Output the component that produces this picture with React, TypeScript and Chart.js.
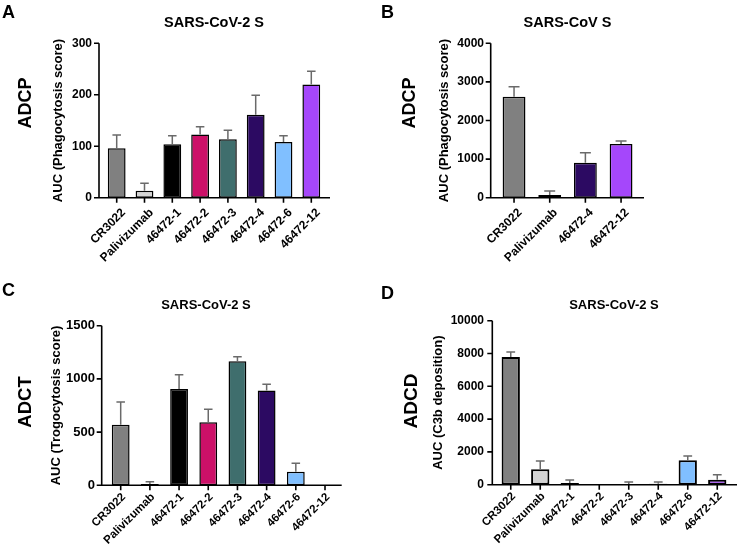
import React, { useEffect, useRef } from "react";
import { Chart, registerables } from "chart.js";
Chart.register(...registerables);

const FONT = "'Liberation Sans', Arial, Helvetica, sans-serif";

// ---------- data ----------
const categoriesFull = ["CR3022", "Palivizumab", "46472-1", "46472-2", "46472-3", "46472-4", "46472-6", "46472-12"];
const colorsFull = ["#808080", "#d3d3d3", "#000000", "#cc1068", "#3f6e6d", "#2c0a62", "#80bfff", "#a547fb"];
const categoriesCov1 = ["CR3022", "Palivizumab", "46472-4", "46472-12"];
const colorsCov1 = ["#808080", "#d3d3d3", "#2c0a62", "#a547fb"];

const adcpCov2Values = [96, 13.6, 103.7, 123, 113.4, 161, 108.2, 220];
const adcpCov2Errors = [26, 14.3, 16.8, 15, 17.5, 38, 12.3, 25.6];
const adcpCov2Ticks = [0, 100, 200, 300];

const adcpCov1Values = [2618, 69, 907, 1391];
const adcpCov1Errors = [259, 104, 259, 78];
const adcpCov1Ticks = [0, 1000, 2000, 3000, 4000];

const adctValues = [570, 12.5, 905, 592, 1165, 892, 128, 0];
const adctErrors = [213, 21.5, 135, 122, 44, 57, 79, 0];
const adctTicks = [0, 500, 1000, 1500];

const adcdValues = [7785, 935, 100, 0, 40, 60, 1484, 305];
const adcdErrors = [304, 508, 185, 0, 120, 100, 264, 305];
const adcdTicks = [0, 2000, 4000, 6000, 8000, 10000];

// ---------- plugin: GraphPad-style axes + error bars ----------
const gpPlugin = {
  id: "gp",
  afterDatasetsDraw(chart: any, _args: any, opts: any) {
    const { ctx, chartArea: ca, scales } = chart;
    const y = scales.y;
    const ds = chart.data.datasets[0];
    const meta = chart.getDatasetMeta(0);
    const errors: number[] = opts.errors || [];
    ctx.save();
    ctx.lineCap = "butt";
    ctx.strokeStyle = opts.errColor;
    ctx.lineWidth = opts.errWidth;
    meta.data.forEach((bar: any, i: number) => {
      const v = ds.data[i] as number;
      const e = errors[i];
      if (!e) return;
      const pTop = y.getPixelForValue(v);
      const pErr = y.getPixelForValue(v + e);
      const half = (bar.width * opts.capFrac) / 2;
      ctx.beginPath();
      ctx.moveTo(bar.x, pTop);
      ctx.lineTo(bar.x, pErr);
      ctx.moveTo(bar.x - half, pErr);
      ctx.lineTo(bar.x + half, pErr);
      ctx.stroke();
    });
    const ax = ca.left - opts.gapL;
    ctx.strokeStyle = "#000";
    ctx.lineWidth = opts.axisWidth;
    ctx.beginPath();
    ctx.moveTo(ax, ca.top);
    ctx.lineTo(ax, ca.bottom);
    ctx.moveTo(ax - opts.axisWidth / 2, ca.bottom);
    ctx.lineTo(ca.right + opts.gapR, ca.bottom);
    y.ticks.forEach((t: any) => {
      const py = y.getPixelForValue(t.value);
      ctx.moveTo(ax - opts.tickLen, py);
      ctx.lineTo(ax, py);
    });
    meta.data.forEach((bar: any) => {
      ctx.moveTo(bar.x, ca.bottom);
      ctx.lineTo(bar.x, ca.bottom + opts.tickLen);
    });
    ctx.stroke();
    ctx.restore();
  },
};

type PanelCfg = {
  left: number; top: number; w: number; h: number;
  plotLeft: number; plotRight: number; plotTop: number; plotBottom: number;
  gapL: number; gapR: number;
  labels: string[]; values: number[]; errors: number[]; colors: string[]; ticks: number[];
  yTitle: string; yTitleCenter: number;
  yTickSize: number; yLabelRight: number;
  xTickSize: number; xPad: number; xOffset: number;
  barPct: number; borderWidth: number;
};

const panelA: PanelCfg = {
  left: 0, top: 0, w: 369, h: 276,
  plotLeft: 102.8, plotRight: 325.2, plotTop: 43.3, plotBottom: 197.7,
  gapL: 3.8, gapR: 4.8,
  labels: categoriesFull, values: adcpCov2Values, errors: adcpCov2Errors, colors: colorsFull, ticks: adcpCov2Ticks,
  yTitle: "AUC (Phagocytosis score)", yTitleCenter: 58,
  yTickSize: 12, yLabelRight: 92,
  xTickSize: 12, xPad: 8, xOffset: 7,
  barPct: 0.64, borderWidth: 1.5,
};
const panelB: PanelCfg = {
  left: 369, top: 0, w: 369, h: 276,
  plotLeft: 127.2, plotRight: 269.9, plotTop: 43.3, plotBottom: 197.7,
  gapL: 5.5, gapR: 5.1,
  labels: categoriesCov1, values: adcpCov1Values, errors: adcpCov1Errors, colors: colorsCov1, ticks: adcpCov1Ticks,
  yTitle: "AUC (Phagocytosis score)", yTitleCenter: 75,
  yTickSize: 12, yLabelRight: 115,
  xTickSize: 12, xPad: 8, xOffset: 6,
  barPct: 0.64, borderWidth: 1.5,
};
const panelC: PanelCfg = {
  left: 0, top: 276, w: 369, h: 277,
  plotLeft: 106.1, plotRight: 339.6, plotTop: 49.7, plotBottom: 209.3,
  gapL: 4.4, gapR: 2.1,
  labels: categoriesFull, values: adctValues, errors: adctErrors, colors: colorsFull, ticks: adctTicks,
  yTitle: "AUC (Trogocytosis score)", yTitleCenter: 56,
  yTickSize: 13, yLabelRight: 95,
  xTickSize: 11.5, xPad: 5, xOffset: 3,
  barPct: 0.61, borderWidth: 1.5,
};
const panelD: PanelCfg = {
  left: 369, top: 276, w: 369, h: 277,
  plotLeft: 127, plotRight: 363, plotTop: 44.7, plotBottom: 208.7,
  gapL: 3.7, gapR: 5,
  labels: categoriesFull, values: adcdValues, errors: adcdErrors, colors: colorsFull, ticks: adcdTicks,
  yTitle: "AUC (C3b deposition)", yTitleCenter: 69,
  yTickSize: 12, yLabelRight: 115,
  xTickSize: 11.5, xPad: 5, xOffset: 3,
  barPct: 0.62, borderWidth: 2,
};

function Panel({ cfg }: { cfg: PanelCfg }) {
  const ref = useRef<HTMLCanvasElement | null>(null);
  useEffect(() => {
    if (!ref.current) return;
    const titleLH = 13 * 1.2;
    const chart = new Chart(ref.current, {
      type: "bar",
      data: {
        labels: cfg.labels,
        datasets: [
          {
            data: cfg.values,
            backgroundColor: cfg.colors,
            borderColor: "#000",
            borderWidth: cfg.borderWidth,
            borderSkipped: false,
            barPercentage: cfg.barPct,
            categoryPercentage: 1,
          },
        ],
      },
      plugins: [gpPlugin],
      options: {
        animation: false,
        responsive: false,
        devicePixelRatio: 1,
        events: [],
        layout: {
          padding: { left: 0, top: cfg.plotTop, right: cfg.w - cfg.plotRight, bottom: 0 },
        },
        plugins: {
          legend: { display: false },
          title: { display: false },
          tooltip: { enabled: false },
          gp: {
            errors: cfg.errors,
            errColor: "#6a6a6a",
            errWidth: 1.5,
            capFrac: 0.48,
            gapL: cfg.gapL,
            gapR: cfg.gapR,
            axisWidth: 1.6,
            tickLen: 5,
          },
        } as any,
        scales: {
          x: {
            type: "category",
            offset: true,
            grid: { display: false, drawTicks: false },
            border: { display: false },
            ticks: {
              autoSkip: false,
              maxRotation: 45,
              minRotation: 45,
              padding: cfg.xPad,
              labelOffset: cfg.xOffset,
              color: "#000",
              font: { family: FONT, size: cfg.xTickSize, weight: "bold" },
            },
            afterFit: (s: any) => {
              s.height = cfg.h - cfg.plotBottom;
            },
          },
          y: {
            type: "linear",
            min: cfg.ticks[0],
            max: cfg.ticks[cfg.ticks.length - 1],
            grid: { display: false, drawTicks: false },
            border: { display: false },
            afterBuildTicks: (s: any) => {
              s.ticks = cfg.ticks.map((v) => ({ value: v }));
            },
            ticks: {
              padding: cfg.plotLeft - cfg.yLabelRight,
              color: "#000",
              font: { family: FONT, size: cfg.yTickSize, weight: "bold" },
              callback: (v: any) => String(v),
            },
            title: {
              display: true,
              text: cfg.yTitle,
              color: "#000",
              font: { family: FONT, size: 13, weight: "bold", lineHeight: 1.2 },
              padding: { top: cfg.yTitleCenter - titleLH / 2, bottom: 0 },
            },
            afterFit: (s: any) => {
              s.width = cfg.plotLeft;
            },
          },
        } as any,
      },
    });
    return () => chart.destroy();
  }, [cfg]);
  return (
    <canvas
      ref={ref}
      width={cfg.w}
      height={cfg.h}
      style={{ position: "absolute", left: cfg.left, top: cfg.top, width: cfg.w, height: cfg.h }}
    />
  );
}

function Txt({ text, x, baseline, size, align = "left" }: { text: string; x: number; baseline: number; size: number; align?: "left" | "center" }) {
  const top = baseline - 0.8465 * size;
  const style: React.CSSProperties = {
    position: "absolute",
    top,
    fontFamily: FONT,
    fontWeight: "bold",
    fontSize: size,
    lineHeight: 1,
    color: "#000",
    whiteSpace: "nowrap",
  };
  if (align === "center") {
    style.left = x - 200;
    style.width = 400;
    style.textAlign = "center";
  } else {
    style.left = x;
  }
  return <div style={style}>{text}</div>;
}

function VTxt({ text, cx, cy, size }: { text: string; cx: number; cy: number; size: number }) {
  return (
    <div
      style={{
        position: "absolute",
        left: cx,
        top: cy,
        transform: "translate(-50%, -50%) rotate(-90deg)",
        fontFamily: FONT,
        fontWeight: "bold",
        fontSize: size,
        lineHeight: 1,
        color: "#000",
        whiteSpace: "nowrap",
      }}
    >
      {text}
    </div>
  );
}

export default function App() {
  return (
    <div style={{ position: "absolute", left: 0, top: 0, width: 738, height: 553, background: "#fff", overflow: "hidden" }}>
      <Panel cfg={panelA} />
      <Panel cfg={panelB} />
      <Panel cfg={panelC} />
      <Panel cfg={panelD} />
      <Txt text="A" x={2} baseline={18.5} size={18} />
      <Txt text="B" x={381} baseline={18.5} size={18} />
      <Txt text="C" x={2} baseline={296} size={18} />
      <Txt text="D" x={381} baseline={299} size={18} />
      <Txt text="SARS-CoV-2 S" x={214} baseline={27.5} size={14.5} align="center" />
      <Txt text="SARS-CoV S" x={567.5} baseline={27.5} size={14.5} align="center" />
      <Txt text="SARS-CoV-2 S" x={206} baseline={309.5} size={13} align="center" />
      <Txt text="SARS-CoV-2 S" x={614} baseline={309.5} size={13} align="center" />
      <VTxt text="ADCP" cx={25} cy={102.5} size={18} />
      <VTxt text="ADCP" cx={409} cy={102.5} size={18} />
      <VTxt text="ADCT" cx={24.5} cy={402} size={18.5} />
      <VTxt text="ADCD" cx={410} cy={401} size={19} />
    </div>
  );
}
